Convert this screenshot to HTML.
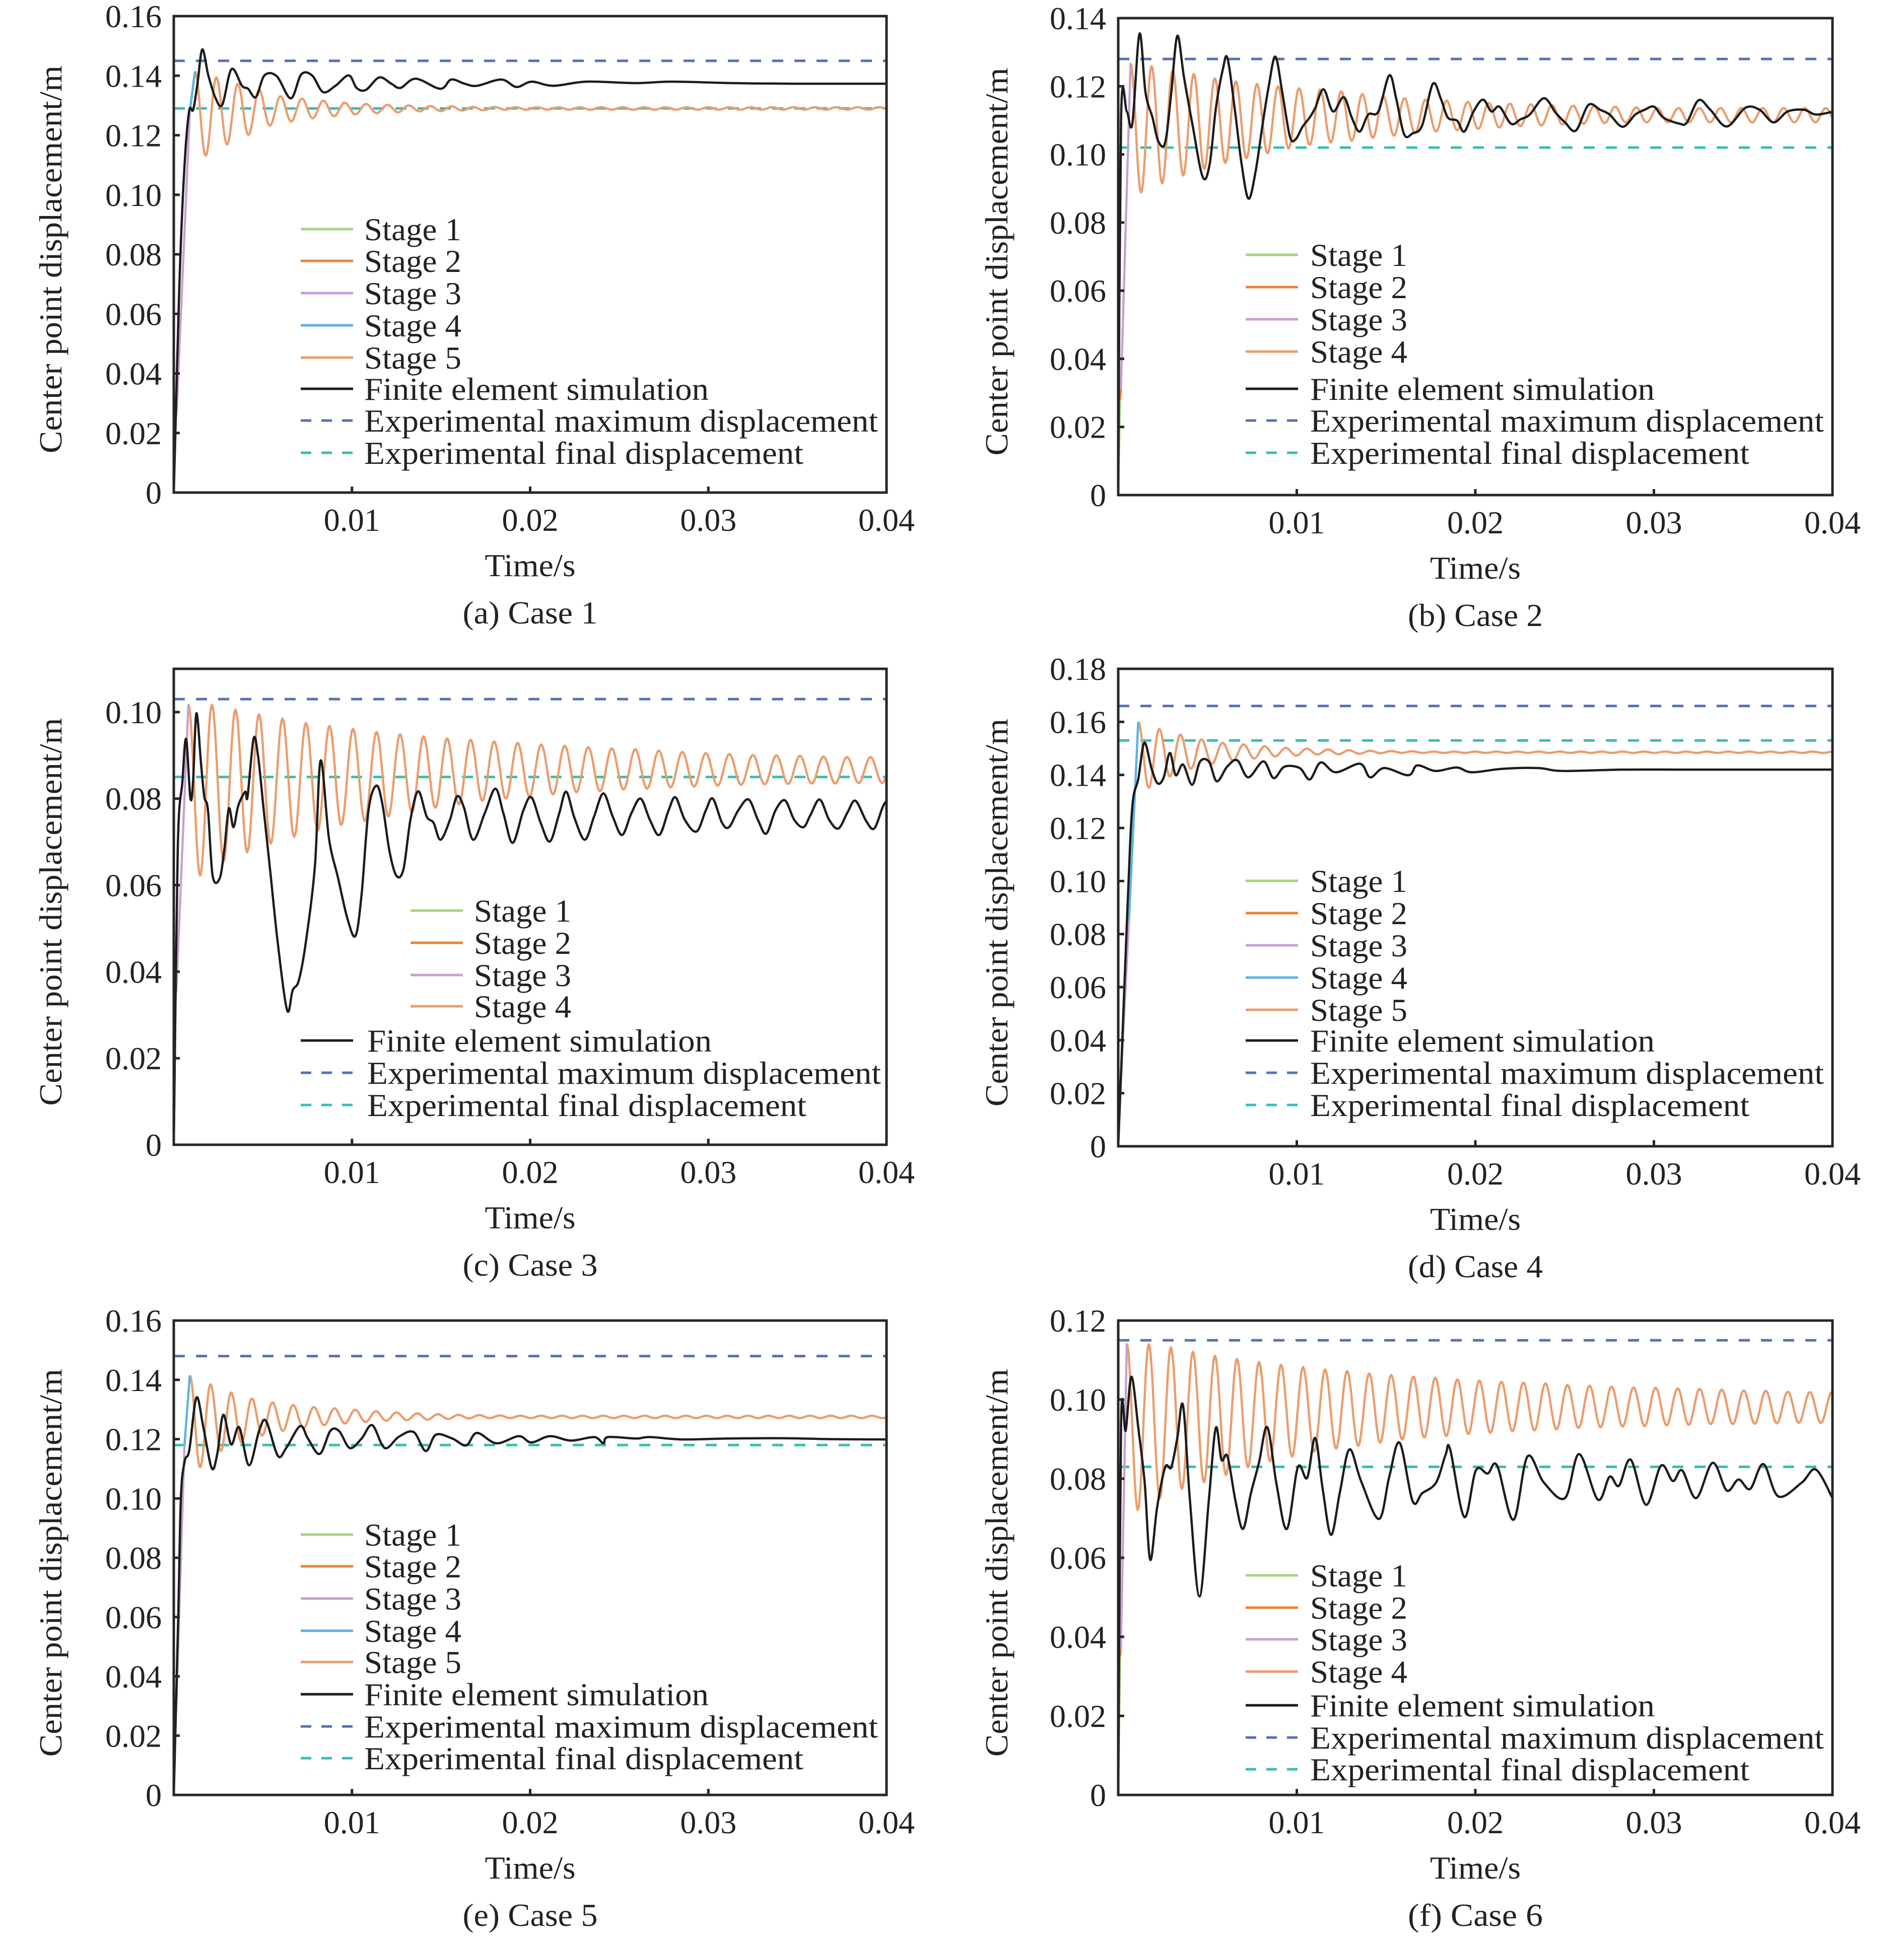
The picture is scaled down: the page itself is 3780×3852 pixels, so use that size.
<!DOCTYPE html>
<html><head><meta charset="utf-8"><style>
html,body{margin:0;padding:0;background:#fff;}
svg{display:block;}
text{font-family:"Liberation Serif","DejaVu Serif",serif;fill:#222;}
</style></head><body>
<svg id="fig" xmlns="http://www.w3.org/2000/svg" width="3780" height="3852" viewBox="0 0 3780 3852"></svg>
<script>
// ---------- DATA (time in s, displacement in m) ----------
const xTicks=[0.01,0.02,0.03,0.04];
const xTickLabels=["0.01","0.02","0.03","0.04"];
const legendNames5=["Stage 1","Stage 2","Stage 3","Stage 4","Stage 5"];
const legendNames4=["Stage 1","Stage 2","Stage 3","Stage 4"];
const legendTail=["Finite element simulation","Experimental maximum displacement","Experimental final displacement"];

// Case 1
const aExpMax=0.145, aExpFinal=0.129;
const aStage1=[[0,0],[0.00012,0.025]];
const aStage2=[[0.00012,0.025],[0.00018,0.03]];
const aStage3=[[0.00018,0.03],[0.0009,0.128]];
const aStage4=[[0.0009,0.128],[0.00119,0.1415]];
const aOscStart=0.00119, aOscHalf=0.0006;
const aOscPeaks=[0.1415,0.1394,0.1373,0.1352,0.1331,0.1323,0.1316,0.1309,0.1305,0.1302,0.1300,0.1298,0.1297,0.1295,0.1295,0.1294];
const aOscTroughs=[0.1131,0.1169,0.1201,0.1232,0.1246,0.1257,0.1264,0.1270,0.1274,0.1277,0.1280,0.1281,0.1283,0.1284,0.1286];
const aFE=[[0,0],[0.0003,0.0671],[0.00057,0.1064],[0.00085,0.1277],[0.00109,0.1286],[0.00133,0.1373],[0.0016,0.1488],[0.00194,0.1401],[0.00235,0.1324],[0.00273,0.1303],[0.00324,0.1422],[0.00383,0.1366],[0.00417,0.1356],[0.00461,0.1328],[0.00509,0.1401],[0.00578,0.1398],[0.00657,0.1324],[0.00715,0.1404],[0.00776,0.1401],[0.00838,0.1345],[0.00907,0.1366],[0.00982,0.1401],[0.01026,0.1359],[0.01078,0.1352],[0.01153,0.1394],[0.01221,0.1373],[0.01273,0.1359],[0.01358,0.1390],[0.01495,0.1356],[0.01557,0.1387],[0.01632,0.1373],[0.01701,0.1366],[0.01838,0.1387],[0.01923,0.1362],[0.02009,0.1380],[0.02129,0.1366],[0.02317,0.1380],[0.02591,0.1375],[0.02796,0.1380],[0.03139,0.1375],[0.03481,0.1373],[0.04,0.1373]];

// Case 2
const bExpMax=0.128, bExpFinal=0.102;
const bStage1=[[0,0],[0.0001,0.028]];
const bStage2=[[0.0001,0.028],[0.00015,0.031]];
const bStage3=[[0.00015,0.031],[0.00069,0.1268]];
const bOscStart=0.00069, bOscHalf=0.00059;
const bOscPeaks=[0.1268,0.1259,0.1247,0.1236,0.1223,0.1214,0.1207,0.1200,0.1194,0.1191,0.1185,0.1177,0.1170,0.1165,0.1161,0.1158,0.1154,0.1151,0.1149,0.1147,0.1145,0.1143,0.1142,0.1140,0.1138,0.1136];
const bOscTroughs=[0.0888,0.0915,0.0938,0.0957,0.0975,0.0989,0.1003,0.1017,0.1028,0.1035,0.1040,0.1049,0.1055,0.1062,0.1067,0.1071,0.1075,0.1079,0.1083,0.1085,0.1088,0.1090,0.1092,0.1094];
const bFE=[[0,0],[0.00016,0.1108],[0.00048,0.1126],[0.00079,0.1090],[0.00119,0.1354],[0.00153,0.1181],[0.00192,0.1108],[0.00224,0.1039],[0.00263,0.1035],[0.00297,0.1181],[0.00331,0.1348],[0.00368,0.1227],[0.00415,0.1090],[0.00473,0.0934],[0.00512,0.0971],[0.00547,0.1136],[0.00586,0.1250],[0.00612,0.1282],[0.00652,0.1136],[0.00691,0.0971],[0.0073,0.0870],[0.0077,0.0952],[0.00809,0.1090],[0.00843,0.1200],[0.0088,0.1287],[0.00919,0.1181],[0.00961,0.1053],[0.00993,0.1044],[0.01032,0.1081],[0.01072,0.1108],[0.01103,0.1136],[0.0115,0.1191],[0.01203,0.1126],[0.01263,0.1168],[0.01308,0.1108],[0.01352,0.1067],[0.014,0.1117],[0.01457,0.1126],[0.01518,0.1232],[0.01557,0.1163],[0.01602,0.1058],[0.01649,0.1062],[0.01702,0.1085],[0.01762,0.1207],[0.01807,0.1163],[0.01846,0.1108],[0.01898,0.1099],[0.01938,0.1067],[0.0199,0.1126],[0.02043,0.1161],[0.0209,0.1126],[0.02135,0.1140],[0.022,0.1090],[0.02253,0.1103],[0.02305,0.1117],[0.02384,0.1165],[0.0245,0.1122],[0.02502,0.1094],[0.02563,0.1070],[0.02633,0.1145],[0.02699,0.1131],[0.02752,0.1117],[0.02825,0.1081],[0.02896,0.1117],[0.02948,0.1131],[0.03001,0.1140],[0.03053,0.1108],[0.03145,0.1090],[0.03185,0.1094],[0.0325,0.1159],[0.03316,0.1131],[0.03408,0.1082],[0.03513,0.1137],[0.03592,0.1131],[0.0367,0.1094],[0.03749,0.1126],[0.03841,0.1131],[0.03907,0.1117],[0.04,0.1125]];

// Case 3
const cExpMax=0.103, cExpFinal=0.085;
const cStage1=[[0,0],[0.0001,0.035]];
const cStage2=[[0.0001,0.035],[0.00015,0.036]];
const cStage3=[[0.00015,0.036],[0.00082,0.1018]];
const cOscStart=0.00082, cOscHalf=0.00066;
const cOscPeaks=[0.1018,0.1017,0.1006,0.0995,0.0985,0.0975,0.0968,0.0961,0.0954,0.0949,0.0944,0.0939,0.0936,0.0932,0.0929,0.0925,0.0922,0.0919,0.0916,0.0914,0.0911,0.0908,0.0905,0.0903,0.0901,0.0900,0.0899,0.0897,0.0896,0.0896];
const cOscTroughs=[0.0622,0.0655,0.0676,0.0696,0.0712,0.0726,0.0739,0.0748,0.0759,0.0769,0.0779,0.0787,0.0795,0.0800,0.0805,0.0810,0.0815,0.0817,0.0821,0.0823,0.0826,0.0828,0.0830,0.0832,0.0833,0.0834,0.0835,0.0835,0.0836,0.0836];
const cFE=[[0,0],[0.00022,0.0680],[0.00048,0.0838],[0.00069,0.0938],[0.00093,0.0802],[0.00108,0.0838],[0.00127,0.0997],[0.00153,0.0881],[0.00171,0.0805],[0.00192,0.0773],[0.00218,0.0622],[0.00257,0.0615],[0.00283,0.0680],[0.00309,0.0777],[0.00335,0.0734],[0.00362,0.0784],[0.00401,0.0816],[0.00414,0.0805],[0.00448,0.0939],[0.00474,0.0895],[0.00505,0.0773],[0.00544,0.0622],[0.00584,0.0465],[0.00636,0.0311],[0.00667,0.0357],[0.00701,0.0379],[0.0074,0.0465],[0.00792,0.0644],[0.00824,0.0888],[0.00871,0.0708],[0.00923,0.0615],[0.00975,0.0522],[0.0102,0.0483],[0.01054,0.0579],[0.01093,0.0773],[0.01137,0.0830],[0.01171,0.0787],[0.0121,0.0680],[0.01249,0.0622],[0.01289,0.0637],[0.01328,0.0751],[0.01372,0.0817],[0.01419,0.0759],[0.01458,0.0744],[0.01497,0.0705],[0.0155,0.0751],[0.01589,0.0805],[0.01628,0.0780],[0.0168,0.0705],[0.01745,0.0766],[0.01805,0.0823],[0.0185,0.0766],[0.01902,0.0698],[0.01962,0.0773],[0.02007,0.0803],[0.02059,0.0744],[0.02111,0.0701],[0.02163,0.0766],[0.02202,0.0816],[0.02249,0.0755],[0.02307,0.0705],[0.02359,0.0759],[0.02411,0.0812],[0.02463,0.0759],[0.02516,0.0716],[0.02568,0.0766],[0.0262,0.0800],[0.02672,0.0751],[0.02725,0.0716],[0.02777,0.0773],[0.02816,0.0803],[0.02868,0.0751],[0.02934,0.0724],[0.02986,0.0773],[0.03025,0.0800],[0.03077,0.0744],[0.03116,0.0734],[0.03168,0.0773],[0.03226,0.0798],[0.03278,0.0751],[0.03325,0.0719],[0.03377,0.0773],[0.0343,0.0796],[0.03482,0.0751],[0.03534,0.0734],[0.03573,0.0762],[0.03625,0.0798],[0.03678,0.0751],[0.0373,0.0731],[0.03782,0.0769],[0.03826,0.0795],[0.03886,0.0748],[0.03931,0.0731],[0.03978,0.0780],[0.04,0.0795]];

// Case 4
const dExpMax=0.166, dExpFinal=0.153;
const dStage1=[[0,0],[0.0001,0.022]];
const dStage2=[[0.0001,0.022],[0.00015,0.025]];
const dStage3=[[0.00015,0.025],[0.0006,0.085]];
const dStage4=[[0.0006,0.085],[0.00112,0.160]];
const dOscStart=0.00112, dOscHalf=0.00059;
const dOscPeaks=[0.1600,0.1573,0.1552,0.1534,0.1521,0.1515,0.1508,0.1502,0.1499,0.1496,0.1493,0.1491,0.1490,0.1489,0.1488];
const dOscTroughs=[0.1352,0.1394,0.1423,0.1442,0.1455,0.1462,0.1470,0.1473,0.1477,0.1478,0.1480,0.1482,0.1483];
const dFE=[[0,0],[0.00052,0.0901],[0.00079,0.1281],[0.00112,0.1383],[0.00146,0.1521],[0.00187,0.1423],[0.00221,0.1368],[0.00255,0.1391],[0.00289,0.1483],[0.00322,0.1399],[0.00363,0.1439],[0.00414,0.1363],[0.00458,0.1450],[0.00508,0.1450],[0.00552,0.1376],[0.0061,0.1431],[0.00667,0.1455],[0.00728,0.1391],[0.00813,0.1451],[0.0087,0.1388],[0.00931,0.1431],[0.01016,0.1426],[0.01073,0.1383],[0.01134,0.1447],[0.01218,0.1410],[0.01354,0.1442],[0.01411,0.1391],[0.01489,0.1426],[0.01625,0.1399],[0.01675,0.1436],[0.01777,0.1415],[0.01895,0.1428],[0.0198,0.1410],[0.02149,0.1423],[0.02352,0.1426],[0.02487,0.1415],[0.02825,0.1420],[0.03164,0.1420],[0.03502,0.1420],[0.04,0.1420]];

// Case 5
const eExpMax=0.148, eExpFinal=0.118;
const eStage1=[[0,0],[0.0001,0.03]];
const eStage2=[[0.0001,0.03],[0.00015,0.032]];
const eStage3=[[0.00015,0.032],[0.0006,0.118]];
const eStage4=[[0.0006,0.118],[0.0009,0.1415]];
const eOscStart=0.0009, eOscHalf=0.00058;
const eOscPeaks=[0.1415,0.1385,0.1357,0.1337,0.1324,0.1315,0.1308,0.1304,0.1299,0.1294,0.1290,0.1287,0.1284,0.1282,0.1281,0.1280,0.1279];
const eOscTroughs=[0.1105,0.1160,0.1189,0.1212,0.1228,0.1237,0.1247,0.1253,0.1258,0.1262,0.1264,0.1266,0.1268,0.1270,0.1271];
const eFE=[[0,0],[0.00025,0.06],[0.0004,0.1002],[0.00061,0.1125],[0.00087,0.1163],[0.00127,0.1340],[0.00166,0.1240],[0.00213,0.1102],[0.00244,0.1150],[0.00278,0.1282],[0.00322,0.1182],[0.00367,0.1240],[0.00422,0.1112],[0.00479,0.1228],[0.00518,0.1261],[0.00584,0.1144],[0.00631,0.1170],[0.00709,0.1244],[0.00753,0.1202],[0.00819,0.1150],[0.00879,0.1228],[0.00928,0.1227],[0.00988,0.1170],[0.01054,0.1202],[0.01114,0.1247],[0.01184,0.1170],[0.01263,0.1208],[0.01346,0.1224],[0.01414,0.1160],[0.01471,0.1215],[0.01563,0.1202],[0.01641,0.1179],[0.01701,0.1221],[0.01811,0.1186],[0.01936,0.1210],[0.02007,0.1189],[0.02111,0.1210],[0.02229,0.1195],[0.02359,0.1207],[0.02411,0.1186],[0.02437,0.1207],[0.02594,0.1202],[0.02672,0.1207],[0.02855,0.1199],[0.03116,0.1202],[0.0343,0.1203],[0.03691,0.1200],[0.04,0.1199]];

// Case 6
const fExpMax=0.115, fExpFinal=0.083;
const fStage1=[[0,0],[0.0001,0.035]];
const fStage2=[[0.0001,0.035],[0.00015,0.037]];
const fStage3=[[0.00015,0.037],[0.00048,0.1142]];
const fOscStart=0.00048, fOscHalf=0.000617;
const fOscPeaks=[0.1142,0.1140,0.1132,0.1121,0.1111,0.1103,0.1095,0.1088,0.1082,0.1076,0.1072,0.1066,0.1062,0.1058,0.1055,0.1051,0.1048,0.1045,0.1043,0.1041,0.1037,0.1035,0.1033,0.1031,0.1030,0.1028,0.1027,0.1025,0.1023,0.1022,0.1020,0.1019];
const fOscTroughs=[0.0721,0.0751,0.0774,0.0791,0.0809,0.0829,0.0844,0.0856,0.0868,0.0876,0.0883,0.0891,0.0899,0.0904,0.0908,0.0913,0.0916,0.0920,0.0922,0.0925,0.0928,0.0930,0.0932,0.0933,0.0935,0.0936,0.0938,0.0938,0.0939,0.0940,0.0941,0.0941];
const fFE=[[0,0],[0.00016,0.0942],[0.00042,0.0922],[0.00074,0.1058],[0.00113,0.0926],[0.00148,0.0790],[0.00179,0.0595],[0.00218,0.0728],[0.00263,0.0829],[0.00297,0.0829],[0.00331,0.0903],[0.00363,0.0985],[0.00402,0.0743],[0.00455,0.0502],[0.00507,0.0743],[0.00546,0.0928],[0.00578,0.0848],[0.00612,0.0856],[0.00657,0.0743],[0.00699,0.0673],[0.00743,0.0763],[0.00788,0.0840],[0.00835,0.0930],[0.00888,0.0782],[0.00945,0.0673],[0.01006,0.0829],[0.01058,0.0802],[0.01103,0.0903],[0.01145,0.0774],[0.01192,0.0658],[0.01242,0.0767],[0.01295,0.0874],[0.0136,0.0794],[0.0146,0.0698],[0.01518,0.0805],[0.01576,0.0891],[0.01649,0.0743],[0.01702,0.0763],[0.0178,0.0790],[0.01833,0.0860],[0.01859,0.0874],[0.01938,0.0703],[0.02003,0.0821],[0.02069,0.0813],[0.02122,0.0833],[0.02213,0.0696],[0.02292,0.0856],[0.02384,0.0790],[0.02502,0.0751],[0.02581,0.0862],[0.02686,0.0747],[0.02752,0.0805],[0.02804,0.0782],[0.0287,0.0848],[0.02956,0.0734],[0.0304,0.0833],[0.03106,0.0794],[0.03158,0.0821],[0.03237,0.0751],[0.03329,0.0840],[0.03408,0.0770],[0.03474,0.0798],[0.03539,0.0774],[0.03613,0.0837],[0.03697,0.0755],[0.03828,0.0790],[0.03907,0.0823],[0.04,0.0751]];

// ---------- DRAWING ----------
const NS="http://www.w3.org/2000/svg";
const svg=document.getElementById('fig');
const C={s1:"#a9d27e",s2:"#ee8138",s3:"#c6a2d0",s4:"#5cb2e2",s5:"#e99e6e",fe:"#1c1c1c",max:"#5570b6",fin:"#38bdb5"};
function mk(tag,attrs,parent){const el=document.createElementNS(NS,tag);for(const k in attrs)el.setAttribute(k,attrs[k]);(parent||svg).appendChild(el);return el;}
function txt(s,attrs,parent){const el=mk('text',attrs,parent);el.textContent=s;return el;}

function oscExt(peaks,troughs,k){return k%2===0?peaks[Math.min(k/2,peaks.length-1)]:troughs[Math.min((k-1)/2,troughs.length-1)];}
function oscPath(X,Y,start,half,peaks,troughs){
  let d="M"+X(start).toFixed(1)+","+Y(peaks[0]).toFixed(1);
  for(let i=0;;i++){
    const a=oscExt(peaks,troughs,i),b=oscExt(peaks,troughs,i+1);
    let stop=false;
    for(let j=1;j<=12;j++){
      const t=start+(i+j/12)*half;
      if(t>0.04){stop=true;break;}
      const v=a+(b-a)*(1-Math.cos(Math.PI*j/12))/2;
      d+="L"+X(t).toFixed(1)+","+Y(v).toFixed(1);
    }
    if(stop)break;
  }
  return d;
}
function smoothPath(X,Y,pts){
  const p=pts.map(q=>[X(q[0]),Y(q[1])]);
  let d="M"+p[0][0].toFixed(1)+","+p[0][1].toFixed(1);
  for(let i=0;i<p.length-1;i++){
    const p0=p[Math.max(i-1,0)],p1=p[i],p2=p[i+1],p3=p[Math.min(i+2,p.length-1)];
    const c1=[p1[0]+(p2[0]-p0[0])/6,p1[1]+(p2[1]-p0[1])/6];
    const c2=[p2[0]-(p3[0]-p1[0])/6,p2[1]-(p3[1]-p1[1])/6];
    d+="C"+c1[0].toFixed(1)+","+c1[1].toFixed(1)+" "+c2[0].toFixed(1)+","+c2[1].toFixed(1)+" "+p2[0].toFixed(1)+","+p2[1].toFixed(1);
  }
  return d;
}
function linePath(X,Y,pts){return pts.map((q,i)=>(i?"L":"M")+X(q[0]).toFixed(1)+","+Y(q[1]).toFixed(1)).join("");}

function drawPanel(cfg){
  const g=mk('g',{});
  
  
  const L=cfg.L,R=cfg.R,T=cfg.T,B=cfg.B;
  const X=t=>L+t/0.04*(R-L), Y=v=>B-v/cfg.ymax*(B-T);
  const cp=mk('clipPath',{id:'clip-'+cfg.id},g);
  mk('rect',{x:L,y:T,width:R-L,height:B-T},cp);
  const plot=mk('g',{'clip-path':'url(#clip-'+cfg.id+')'},g);
  
  
  const lmax=mk('line',{x1:L,x2:R,y1:Y(cfg.expMax),y2:Y(cfg.expMax),stroke:C.max,'stroke-width':5,'stroke-dasharray':'22 22'},plot);
  
  
  const lfin=mk('line',{x1:L,x2:R,y1:Y(cfg.expFinal),y2:Y(cfg.expFinal),stroke:C.fin,'stroke-width':5,'stroke-dasharray':'22 22'},plot);
  
  
  const osc=mk('path',{d:oscPath(X,Y,cfg.oscStart,cfg.oscHalf,cfg.oscPeaks,cfg.oscTroughs),fill:'none',stroke:C.s5,'stroke-width':4.5,'stroke-linejoin':'round'},plot);
  
  
  cfg.stages.forEach((s,i)=>{
    const p=mk('path',{d:linePath(X,Y,s),fill:'none',stroke:[C.s1,C.s2,C.s3,C.s4][i],'stroke-width':4.5},plot);
    
    
  });
  const fe=mk('path',{d:smoothPath(X,Y,cfg.fe),fill:'none',stroke:C.fe,'stroke-width':4.5,'stroke-linejoin':'round'},plot);
  
  
  const fr=mk('rect',{x:L,y:T,width:R-L,height:B-T,fill:'none',stroke:'#262626','stroke-width':5},g);
  
  
  for(let k=0;k<cfg.yLabels.length;k++){
    const v=k*0.02, yy=Y(v);
    if(k>0){const tk=mk('line',{x1:L,x2:L+12,y1:yy,y2:yy,stroke:'#262626','stroke-width':5},g);
      
      }
    const lb=txt(cfg.yLabels[k],{x:L-24,y:yy+22,'font-size':64,'text-anchor':'end'},g);
    
    
  }
  xTicks.forEach((t,i)=>{
    const xx=X(t);
    if(t<0.04){const tk=mk('line',{x1:xx,x2:xx,y1:B,y2:B-12,stroke:'#262626','stroke-width':5},g);
      
      }
    const lb=txt(xTickLabels[i],{x:xx,y:B+76,'font-size':64,'text-anchor':'middle'},g);
    
    
  });
  const xt=txt("Time/s",{x:(L+R)/2,y:B+166,'font-size':64,'text-anchor':'middle',textLength:180,lengthAdjust:'spacingAndGlyphs'},g);
  
  
  const cap=txt(cfg.caption,{x:(L+R)/2,y:B+260,'font-size':64,'text-anchor':'middle',textLength:268,lengthAdjust:'spacingAndGlyphs'},g);
  
  
  const yc=(T+B)/2+10;
  const yt=txt("Center point displacement/m",{x:0,y:0,'font-size':64,'text-anchor':'middle',textLength:770,lengthAdjust:'spacingAndGlyphs',transform:'translate('+(cfg.ytX)+','+yc+') rotate(-90)'},g);
  
  
  const lg=mk('g',{},g);
  
  
  const stageCols=[C.s1,C.s2,C.s3,C.s4,C.s5];
  const widths={"Stage":193,"Finite element simulation":684,"Experimental maximum displacement":1020,"Experimental final displacement":872};
  cfg.legendRows.forEach((row,i)=>{
    const e=mk('g',{},lg);
    
    
    let col,dash=null,name;
    if(i<cfg.nStages){name=cfg.stageNames[i];col=(i===cfg.nStages-1)?C.s5:stageCols[i];}
    else{const j=i-cfg.nStages;name=legendTail[j];col=[C.fe,C.max,C.fin][j];if(j>0)dash='21 20';}
    const lx=row[1];
    const ln=mk('line',{x1:lx,x2:lx+104,y1:row[0],y2:row[0],stroke:col,'stroke-width':5},e);
    if(dash)ln.setAttribute('stroke-dasharray',dash);
    
    
    const w=name.startsWith("Stage")?widths.Stage:widths[name];
    const tx=txt(name,{x:lx+(row[2]),y:row[0]+22,'font-size':64,textLength:w,lengthAdjust:'spacingAndGlyphs'},e);
    
    
  });
}
const yl16=["0","0.02","0.04","0.06","0.08","0.10","0.12","0.14","0.16"];
const yl14=["0","0.02","0.04","0.06","0.08","0.10","0.12","0.14"];
const yl10=["0","0.02","0.04","0.06","0.08","0.10"];
const yl18=["0","0.02","0.04","0.06","0.08","0.10","0.12","0.14","0.16","0.18"];
const yl12=["0","0.02","0.04","0.06","0.08","0.10","0.12"];
function rows(ys,x,off){return ys.map(y=>[y,x,off]);}

drawPanel({id:'case-1',L:345,R:1760,T:32,B:978,ymax:0.16,yLabels:yl16,expMax:aExpMax,expFinal:aExpFinal,
  stages:[aStage1,aStage2,aStage3,aStage4],oscStart:aOscStart,oscHalf:aOscHalf,oscPeaks:aOscPeaks,oscTroughs:aOscTroughs,fe:aFE,
  caption:"(a) Case 1",ytX:122,nStages:5,stageNames:legendNames5,
  legendRows:rows([455,518,582,646,710,772,835,899],597,126)});
drawPanel({id:'case-2',L:2220,R:3638,T:36,B:983,ymax:0.14,yLabels:yl14,expMax:bExpMax,expFinal:bExpFinal,
  stages:[bStage1,bStage2,bStage3],oscStart:bOscStart,oscHalf:bOscHalf,oscPeaks:bOscPeaks,oscTroughs:bOscTroughs,fe:bFE,
  caption:"(b) Case 2",ytX:2000,nStages:4,stageNames:legendNames4,
  legendRows:rows([506,570,634,698,772,835,899],2473,128)});
drawPanel({id:'case-3',L:345,R:1760,T:1328,B:2273,ymax:0.11,yLabels:yl10,expMax:cExpMax,expFinal:cExpFinal,
  stages:[cStage1,cStage2,cStage3],oscStart:cOscStart,oscHalf:cOscHalf,oscPeaks:cOscPeaks,oscTroughs:cOscTroughs,fe:cFE,
  caption:"(c) Case 3",ytX:122,nStages:4,stageNames:legendNames4,
  legendRows:[[1808,815,126],[1872,815,126],[1936,815,126],[1998,815,126],[2066,597,132],[2130,597,132],[2194,597,132]]});
drawPanel({id:'case-4',L:2220,R:3638,T:1328,B:2276,ymax:0.18,yLabels:yl18,expMax:dExpMax,expFinal:dExpFinal,
  stages:[dStage1,dStage2,dStage3,dStage4],oscStart:dOscStart,oscHalf:dOscHalf,oscPeaks:dOscPeaks,oscTroughs:dOscTroughs,fe:dFE,
  caption:"(d) Case 4",ytX:2000,nStages:5,stageNames:legendNames5,
  legendRows:rows([1749,1813,1877,1941,2005,2066,2130,2194],2473,128)});
drawPanel({id:'case-5',L:345,R:1760,T:2622,B:3564,ymax:0.16,yLabels:yl16,expMax:eExpMax,expFinal:eExpFinal,
  stages:[eStage1,eStage2,eStage3,eStage4],oscStart:eOscStart,oscHalf:eOscHalf,oscPeaks:eOscPeaks,oscTroughs:eOscTroughs,fe:eFE,
  caption:"(e) Case 5",ytX:122,nStages:5,stageNames:legendNames5,
  legendRows:rows([3047,3110,3174,3238,3300,3364,3428,3491],597,126)});
drawPanel({id:'case-6',L:2220,R:3638,T:2622,B:3564,ymax:0.12,yLabels:yl12,expMax:fExpMax,expFinal:fExpFinal,
  stages:[fStage1,fStage2,fStage3],oscStart:fOscStart,oscHalf:fOscHalf,oscPeaks:fOscPeaks,oscTroughs:fOscTroughs,fe:fFE,
  caption:"(f) Case 6",ytX:2000,nStages:4,stageNames:legendNames4,
  legendRows:rows([3128,3192,3255,3319,3386,3450,3513],2473,128)});
</script>
</body></html>
